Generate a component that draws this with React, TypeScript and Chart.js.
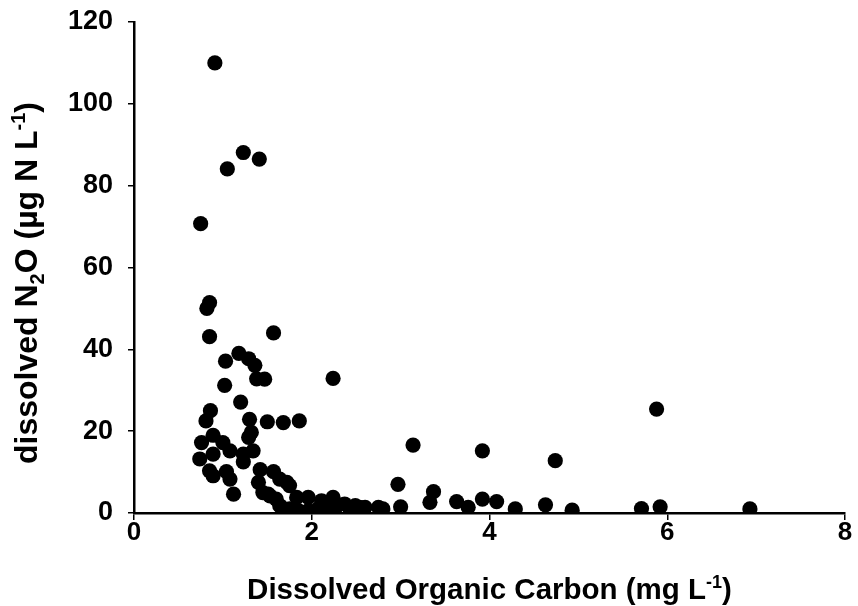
import React, { useEffect, useRef } from "react";
import { Chart, registerables } from "chart.js";

Chart.register(...registerables);

// Dissolved organic carbon (mg L-1)
const docValues = [
  0.91, 1.23, 1.41, 1.05, 0.75, 0.85, 0.82, 0.85, 1.57, 1.18,
  1.29, 1.36, 1.03, 1.38, 1.47, 2.24, 1.02, 1.20, 0.86, 0.81,
  1.30, 1.50, 1.68, 1.86, 1.32, 1.29, 0.89, 0.76, 1.00, 1.08,
  1.34, 1.23, 0.89, 0.74, 1.23, 1.42, 1.57, 0.85, 1.04, 1.08,
  0.89, 1.40, 1.64, 1.72, 1.12, 1.45, 1.53, 1.60, 1.64, 1.66,
  1.75, 1.83, 1.96, 1.85, 1.96, 2.07, 2.11, 2.24, 2.26, 2.24,
  2.13, 2.37, 2.49, 2.60, 2.75, 2.43, 2.54, 2.80, 3.00, 2.97,
  3.14, 3.37, 3.33, 3.63, 3.76, 3.92, 3.92, 4.08, 4.29, 4.63,
  4.74, 4.93, 5.71, 5.92, 5.88, 6.93, 1.51, 1.75,
];

// Dissolved N2O (µg N L-1)
const n2oValues = [
  110.0, 88.1, 86.5, 84.1, 70.7, 51.4, 50.0, 43.1, 44.0, 39.0,
  37.7, 36.1, 37.1, 32.8, 32.7, 32.9, 31.2, 27.1, 25.0, 22.5,
  22.9, 22.3, 22.1, 22.5, 19.7, 18.5, 19.0, 17.2, 17.2, 15.2,
  15.2, 14.4, 14.4, 13.2, 12.5, 10.6, 10.1, 10.3, 10.1, 8.3,
  9.1, 7.5, 8.3, 7.5, 4.6, 5.0, 4.2, 3.4, 1.8, 1.4,
  1.0, 3.8, 3.8, 0.6, 0.6, 1.0, 3.0, 3.8, 1.0, 0.6,
  1.8, 2.2, 1.8, 1.4, 1.4, 1.0, 1.4, 1.0, 1.5, 7.0,
  16.6, 5.2, 2.6, 2.8, 1.4, 3.4, 15.2, 2.8, 1.0, 2.0,
  12.8, 0.7, 1.1, 1.5, 25.4, 1.0, 4.6, 6.7,
];

const xTickValues = [0, 2, 4, 6, 8];
const yTickValues = [0, 20, 40, 60, 80, 100, 120];

type Part = { t: string; sub?: boolean; sup?: boolean };
const xTitleParts: Part[] = [
  { t: "Dissolved Organic Carbon (mg L" },
  { t: "-1", sup: true },
  { t: ")" },
];
const yTitleParts: Part[] = [
  { t: "dissolved N" },
  { t: "2", sub: true },
  { t: "O (µg N L" },
  { t: "-1", sup: true },
  { t: ")" },
];

const FONT = "Arial, 'Liberation Sans', Helvetica, sans-serif";

function drawRich(ctx: CanvasRenderingContext2D, parts: Part[], size: number) {
  const small = Math.round(size * 0.62);
  const widths = parts.map((p) => {
    ctx.font = `bold ${p.sub || p.sup ? small : size}px ${FONT}`;
    return ctx.measureText(p.t).width;
  });
  const total = widths.reduce((a, b) => a + b, 0);
  let x = -total / 2;
  parts.forEach((p, i) => {
    ctx.font = `bold ${p.sub || p.sup ? small : size}px ${FONT}`;
    let dy = 0;
    if (p.sub) dy = size * 0.22;
    if (p.sup) dy = -size * 0.38;
    ctx.fillText(p.t, x, dy);
    x += widths[i];
  });
}

const titlePlugin = {
  id: "richTitles",
  afterDraw(chart: any) {
    const { ctx, chartArea } = chart;
    ctx.save();
    ctx.fillStyle = "#000";
    ctx.textBaseline = "alphabetic";
    ctx.textAlign = "left";
    // x title
    ctx.save();
    ctx.translate((chartArea.left + chartArea.right) / 2, 599);
    drawRich(ctx, xTitleParts, 29.5);
    ctx.restore();
    // y title
    ctx.save();
    ctx.translate(37, 283);
    ctx.rotate(-Math.PI / 2);
    drawRich(ctx, yTitleParts, 32);
    ctx.restore();
    ctx.restore();
  },
};

export default function App() {
  const canvasRef = useRef<HTMLCanvasElement | null>(null);

  useEffect(() => {
    if (!canvasRef.current) return;
    const points = docValues.map((x, i) => ({ x, y: n2oValues[i] }));
    const chart = new Chart(canvasRef.current, {
      type: "scatter",
      data: {
        datasets: [
          {
            data: points,
            backgroundColor: "#000",
            borderColor: "#000",
            pointRadius: 7.6,
            pointBorderWidth: 0,
          },
        ],
      },
      options: {
        animation: false,
        responsive: true,
        maintainAspectRatio: false,
        layout: { padding: { top: 22, right: 13, left: 0, bottom: 0 } },
        plugins: {
          legend: { display: false },
          tooltip: { enabled: false },
        },
        scales: {
          x: {
            type: "linear",
            min: 0,
            max: 8,
            afterBuildTicks: (scale: any) => {
              scale.ticks = xTickValues.map((v) => ({ value: v }));
            },
            afterFit: (scale: any) => {
              scale.height = 93;
              scale.paddingLeft = 0;
              scale.paddingRight = 0;
            },
            grid: {
              display: true,
              drawOnChartArea: false,
              drawTicks: true,
              tickLength: 7,
              color: "#000",
              lineWidth: 1.5,
            },
            border: { display: true, color: "#000", width: 2.5 },
            ticks: {
              color: "#000",
              padding: -3,
              font: { family: FONT, size: 26, weight: "bold" },
            },
            title: { display: false },
          },
          y: {
            type: "linear",
            min: 0,
            max: 120,
            afterBuildTicks: (scale: any) => {
              scale.ticks = yTickValues.map((v) => ({ value: v }));
            },
            afterFit: (scale: any) => {
              scale.width = 134;
              scale.paddingTop = 0;
              scale.paddingBottom = 0;
            },
            grid: {
              display: true,
              drawOnChartArea: false,
              drawTicks: true,
              tickLength: 6,
              color: "#000",
              lineWidth: 1.5,
            },
            border: { display: true, color: "#000", width: 2.5 },
            ticks: {
              color: "#000",
              padding: 15,
              font: { family: FONT, size: 27, weight: "bold" },
            },
            title: { display: false },
          },
        },
      },
      plugins: [titlePlugin],
    });
    return () => chart.destroy();
  }, []);

  return (
    <div style={{ position: "fixed", left: 0, top: 0, width: 858, height: 606, background: "#fff" }}>
      <canvas ref={canvasRef} />
    </div>
  );
}
